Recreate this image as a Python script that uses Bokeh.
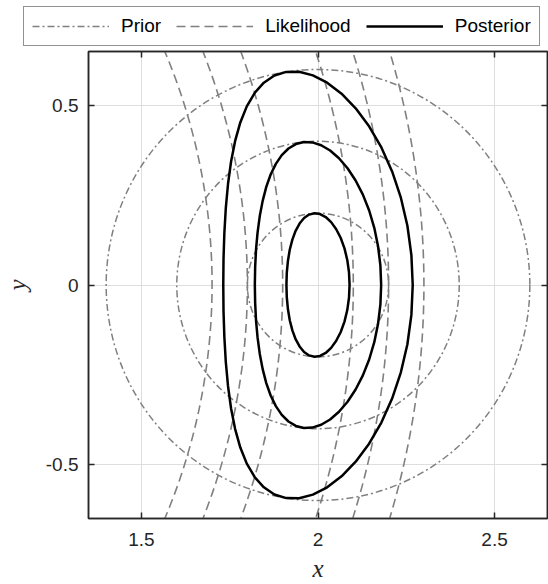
from bokeh.plotting import figure
from bokeh.layouts import column, row
from bokeh.models import (Range1d, LinearAxis, FixedTicker, CustomJSTickFormatter,
                          Legend, LegendItem, ColumnDataSource)
from bokeh.embed import file_html
from bokeh.resources import INLINE

# Axis ticks
x_ticks = [1.5, 2.0, 2.5]
y_ticks = [-0.5, 0.0, 0.5]

# Prior: circular contours around the prior mean
prior_center_x = 2.0
prior_center_y = 0.0
prior_radii = [0.2, 0.4, 0.6]

# Likelihood: range contours around the sensor at the origin
likelihood_center_x = 0.0
likelihood_center_y = 0.0
likelihood_radii = [1.7, 1.8, 1.9, 2.1, 2.2, 2.3]

# Posterior contours (upper halves, right to left; lower halves mirror them)
post1_x = [2.0894, 2.0878, 2.0829, 2.0750, 2.0644, 2.0516, 2.0372, 2.0218, 2.0058, 1.9900,
           1.9748, 1.9606, 1.9478, 1.9366, 1.9274, 1.9200, 1.9148, 1.9116, 1.9106]
post1_y = [0.0, 0.0355, 0.0698, 0.1019, 0.1307, 0.1553, 0.1750, 0.1892, 0.1975, 0.1998,
           0.1960, 0.1863, 0.1711, 0.1509, 0.1263, 0.0980, 0.0669, 0.0340, 0.0]

post2_x = [2.1789, 2.1767, 2.1701, 2.1594, 2.1449, 2.1271, 2.1065, 2.0837, 2.0594, 2.0343,
           2.0090, 1.9840, 1.9600, 1.9373, 1.9164, 1.8974, 1.8806, 1.8659, 1.8535, 1.8433,
           1.8351, 1.8289, 1.8245, 1.8220, 1.8211]
post2_y = [0.0, 0.0545, 0.1079, 0.1592, 0.2074, 0.2516, 0.2910, 0.3249, 0.3528, 0.3743,
           0.3890, 0.3969, 0.3980, 0.3923, 0.3800, 0.3616, 0.3372, 0.3076, 0.2730, 0.2342,
           0.1918, 0.1465, 0.0989, 0.0498, 0.0]

post3_x = [2.2683, 2.2645, 2.2532, 2.2347, 2.2099, 2.1795, 2.1447, 2.1067, 2.0667, 2.0259,
           1.9855, 1.9466, 1.9100, 1.8765, 1.8466, 1.8205, 1.7983, 1.7800, 1.7653, 1.7538,
           1.7451, 1.7389, 1.7348, 1.7324, 1.7317]
post3_y = [0.0, 0.0833, 0.1649, 0.2431, 0.3162, 0.3828, 0.4416, 0.4918, 0.5325, 0.5632,
           0.5835, 0.5935, 0.5932, 0.5830, 0.5632, 0.5344, 0.4973, 0.4526, 0.4011, 0.3437,
           0.2811, 0.2145, 0.1448, 0.0729, 0.0]


def closed_loop(ux, uy):
    """Join an upper half-contour with its mirror image below the x axis."""
    xs = list(ux) + list(reversed(ux))[1:]
    ys = list(uy) + [-v for v in reversed(uy)][1:]
    return xs, ys


post_loops = [closed_loop(post1_x, post1_y),
              closed_loop(post2_x, post2_y),
              closed_loop(post3_x, post3_y)]

AX_COLOR = "#262626"
GRAY = "#808080"
SANS = "Liberation Sans"
SERIF = "Liberation Serif"
PRIOR_DASH = "7 3 2 3"
LIK_DASH = "9 5"
LEGEND_H = 48

p = figure(width=548, height=584 - LEGEND_H,
           x_range=Range1d(1.35, 2.65), y_range=Range1d(-0.65, 0.65),
           output_backend="svg", toolbar_location=None,
           min_border_left=86, min_border_right=1,
           min_border_top=3, min_border_bottom=65,
           background_fill_color="white", border_fill_color="white",
           outline_line_color=AX_COLOR, outline_line_width=1.5)

fmt = CustomJSTickFormatter(code="return tick.toString();")
blank = CustomJSTickFormatter(code="return '';")

# Bottom and left axes
p.xaxis.ticker = FixedTicker(ticks=x_ticks)
p.yaxis.ticker = FixedTicker(ticks=y_ticks)
for ax in (p.xaxis[0], p.yaxis[0]):
    ax.formatter = fmt
    ax.major_tick_in = 6
    ax.major_tick_out = 0
    ax.minor_tick_line_color = None
    ax.axis_line_color = AX_COLOR
    ax.axis_line_width = 1.5
    ax.major_tick_line_color = AX_COLOR
    ax.major_tick_line_width = 1.5
    ax.major_label_text_font = SANS
    ax.major_label_text_font_size = "19px"
    ax.major_label_text_color = AX_COLOR
    ax.axis_label_text_font = SERIF
    ax.axis_label_text_font_style = "italic"
    ax.axis_label_text_font_size = "25px"
    ax.axis_label_text_color = AX_COLOR

p.xaxis.axis_label = "x"
p.yaxis.axis_label = "y"
p.xaxis.major_label_standoff = 14
p.xaxis.axis_label_standoff = 6
p.yaxis.major_label_standoff = 10
p.yaxis.axis_label_standoff = 12

# Box axes on top and right with inward ticks only
for side, ticks in (("above", x_ticks), ("right", y_ticks)):
    ax = LinearAxis(ticker=FixedTicker(ticks=ticks), formatter=blank,
                    major_label_standoff=0,
                    major_tick_in=6, major_tick_out=0,
                    minor_tick_line_color=None,
                    axis_line_color=AX_COLOR, axis_line_width=1.5,
                    major_tick_line_color=AX_COLOR, major_tick_line_width=1.5)
    p.add_layout(ax, side)

p.xgrid.ticker = FixedTicker(ticks=x_ticks)
p.ygrid.ticker = FixedTicker(ticks=y_ticks)
p.xgrid.grid_line_color = "#dedede"
p.ygrid.grid_line_color = "#dedede"
p.xgrid.grid_line_width = 1
p.ygrid.grid_line_width = 1

# Prior contours
p.ellipse(x=[prior_center_x] * len(prior_radii),
          y=[prior_center_y] * len(prior_radii),
          width=[2 * r for r in prior_radii],
          height=[2 * r for r in prior_radii],
          fill_color=None, line_color=GRAY, line_width=1.5,
          line_dash=PRIOR_DASH)

# Likelihood contours
p.arc(x=[likelihood_center_x] * len(likelihood_radii),
      y=[likelihood_center_y] * len(likelihood_radii),
      radius=likelihood_radii, start_angle=-0.45, end_angle=0.45,
      line_color=GRAY, line_width=1.6, line_dash=LIK_DASH)

# Posterior contours
p.multi_line(xs=[lp[0] for lp in post_loops],
             ys=[lp[1] for lp in post_loops],
             line_color="black", line_width=2.5)

# Legend strip above the axes (no axes of its own)
lg = figure(width=548, height=LEGEND_H, output_backend="svg", toolbar_location=None,
            x_axis_type=None, y_axis_type=None,
            x_range=Range1d(0, 1), y_range=Range1d(0, 1), min_border=0,
            background_fill_color="white", border_fill_color="white",
            outline_line_color=None)
lg.grid.visible = False

nan = float("nan")
blank_src = ColumnDataSource(data=dict(x=[nan], y=[nan]))
r_prior_leg = lg.line("x", "y", source=blank_src, line_color=GRAY, line_width=1.5,
                      line_dash=PRIOR_DASH)
r_lik_leg = lg.line("x", "y", source=blank_src, line_color=GRAY, line_width=1.6,
                    line_dash=LIK_DASH)
r_post_leg = lg.line("x", "y", source=blank_src, line_color="black", line_width=2.5)

legend = Legend(items=[LegendItem(label="Prior", renderers=[r_prior_leg]),
                       LegendItem(label="Likelihood", renderers=[r_lik_leg]),
                       LegendItem(label="Posterior", renderers=[r_post_leg])],
                orientation="horizontal", location=(23, 2), margin=0,
                padding=8, spacing=15, label_standoff=12,
                glyph_width=77, glyph_height=20,
                border_line_color=AX_COLOR, border_line_width=1.5,
                background_fill_color="white", background_fill_alpha=1.0,
                label_text_font=SANS, label_text_font_size="19px",
                label_text_color="black")
lg.add_layout(legend)

# The legend strip sits in its own row so it keeps its full-width frame
page = column(row(lg, spacing=0), p, spacing=0)
open("out.html", "w").write(file_html(page, INLINE))
